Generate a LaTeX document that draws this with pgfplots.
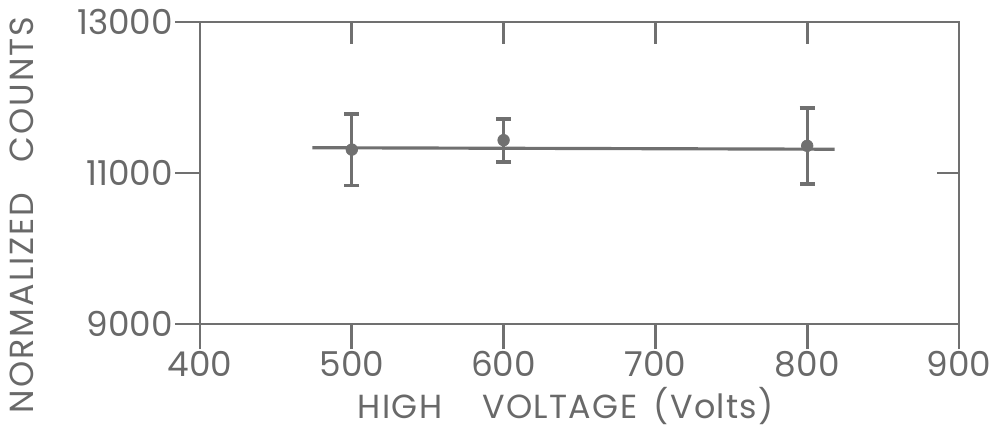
\documentclass[border=0pt]{standalone}
\usepackage{fontspec}
\setmainfont{Poppins}
\newfontfamily\lblfont[LetterSpace=4]{Poppins}
\newfontfamily\ylblfont[LetterSpace=6]{Poppins}
\usepackage{pgfplots}
\pgfplotsset{compat=1.18}
\definecolor{ink}{RGB}{112,112,112}
\definecolor{txt}{RGB}{105,105,105}

\begin{document}
\begin{tikzpicture}
\useasboundingbox (0,0) rectangle (19.86,8.82);

% inward ticks on top and right
\begin{axis}[
    at={(4.0cm,2.34cm)}, anchor=south west,
    scale only axis, width=15.18cm, height=6.04cm,
    xmin=400, xmax=900, ymin=9000, ymax=13000,
    scaled x ticks=false, scaled y ticks=false,
    xtick={500,600,700,800}, ytick={11000},
    xtick pos=top, ytick pos=right,
    xticklabels={}, yticklabels={},
    tick align=inside, major tick length=0.44cm,
    axis line style={ink, line width=1.6pt},
    every tick/.style={ink, line width=1.6pt},
]
\end{axis}

% main axis
\begin{axis}[
    at={(4.0cm,2.34cm)}, anchor=south west,
    scale only axis, width=15.18cm, height=6.04cm,
    xmin=400, xmax=900, ymin=9000, ymax=13000,
    scaled x ticks=false, scaled y ticks=false,
    xtick={400,500,600,700,800,900},
    xticklabels={400,500,600,700,800,900},
    ytick={9000,11000,13000},
    yticklabels={9000,11000,13000},
    xtick pos=bottom, ytick pos=left,
    tick align=outside, major tick length=0.5cm,
    axis line style={ink, line width=1.6pt},
    every tick/.style={ink, line width=1.6pt},
    tick label style={txt, font=\fontsize{19.5}{21}\selectfont, inner sep=1pt},
    xlabel={HIGH\hspace{1.2em}VOLTAGE\hspace{0.5em}(Volts)},
    ylabel={NORMALIZED\hspace{0.9em}COUNTS},
    label style={txt, font=\lblfont\fontsize{19}{21}\selectfont},
    xlabel style={at={(axis description cs:0.482,-0.27)}, anchor=center},
    ylabel style={font=\ylblfont\fontsize{19}{21}\selectfont,
        at={(axis description cs:-0.235,0.361)}, anchor=center},
    clip=false,
]
% fitted line
\addplot[ink, line width=1.8pt] coordinates {(474,11335) (818,11315)};
% measurements
\addplot[ink, only marks, mark=*, mark size=3.3pt,
    error bars/.cd, y dir=both, y explicit,
    error bar style={line width=1.8pt, ink},
    error mark options={ink, line width=2.2pt, mark size=4.3pt, rotate=90}]
  coordinates {
    (500,11310) +- (0,475)
    (600,11435) +- (0,285)
    (800,11360) +- (0,500)
  };
\end{axis}
\end{tikzpicture}
\end{document}
